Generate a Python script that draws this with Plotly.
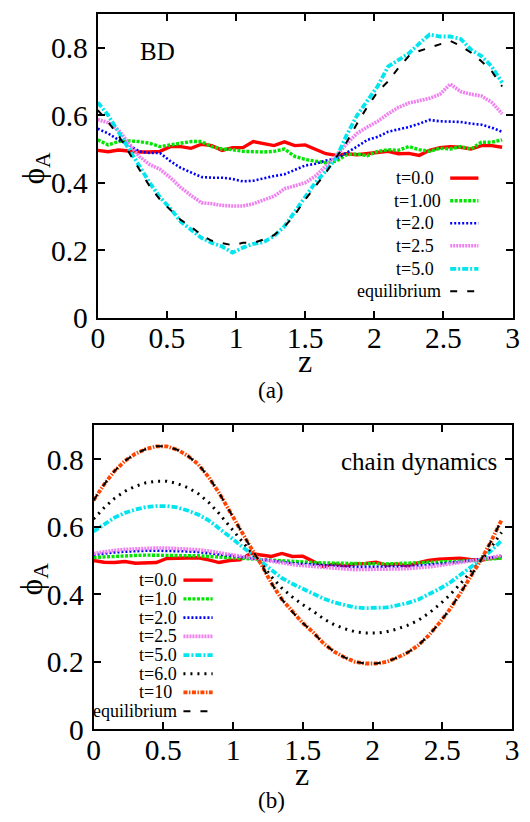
import plotly.graph_objects as go

W, H = 530, 822

# ---------------- data ----------------
z = [0.0, 0.075, 0.15, 0.225, 0.3, 0.375, 0.45, 0.525, 0.6, 0.675,
     0.75, 0.825, 0.9, 0.975, 1.05, 1.125, 1.2, 1.275, 1.35, 1.425,
     1.5, 1.575, 1.65, 1.725, 1.8, 1.875, 1.95, 2.025, 2.1, 2.175,
     2.25, 2.325, 2.4, 2.475, 2.55, 2.625, 2.7, 2.775, 2.85, 2.925]

x_ticks = [0, 0.5, 1, 1.5, 2, 2.5, 3]
x_tick_labels = ["0", "0.5", "1", "1.5", "2", "2.5", "3"]
y_ticks = [0, 0.2, 0.4, 0.6, 0.8]
y_tick_labels = ["0", "0.2", "0.4", "0.6", "0.8"]

# (a) BD
bd_t0 = [0.496, 0.492, 0.497, 0.493, 0.491, 0.491, 0.493, 0.507, 0.507, 0.502,
         0.514, 0.510, 0.496, 0.504, 0.504, 0.522, 0.516, 0.510, 0.521, 0.510,
         0.512, 0.498, 0.486, 0.481, 0.486, 0.483, 0.486, 0.491, 0.493, 0.486,
         0.487, 0.481, 0.496, 0.504, 0.507, 0.505, 0.500, 0.510, 0.510, 0.505]
bd_t1 = [0.527, 0.512, 0.522, 0.524, 0.522, 0.517, 0.507, 0.512, 0.517, 0.522,
         0.522, 0.507, 0.500, 0.498, 0.493, 0.491, 0.491, 0.493, 0.500, 0.478,
         0.469, 0.464, 0.459, 0.464, 0.483, 0.485, 0.480, 0.493, 0.498, 0.496,
         0.507, 0.498, 0.493, 0.502, 0.500, 0.507, 0.500, 0.520, 0.520, 0.527]
bd_t2 = [0.560, 0.546, 0.527, 0.512, 0.493, 0.488, 0.488, 0.464, 0.444, 0.430,
         0.417, 0.415, 0.415, 0.411, 0.404, 0.406, 0.414, 0.420, 0.425, 0.437,
         0.451, 0.456, 0.466, 0.471, 0.488, 0.507, 0.527, 0.536, 0.551, 0.558,
         0.565, 0.575, 0.586, 0.582, 0.580, 0.580, 0.575, 0.572, 0.563, 0.551]
bd_t25 = [0.587, 0.578, 0.556, 0.515, 0.478, 0.454, 0.440, 0.415, 0.386, 0.362,
          0.341, 0.338, 0.333, 0.331, 0.331, 0.338, 0.348, 0.360, 0.382, 0.391,
          0.400, 0.420, 0.450, 0.480, 0.515, 0.546, 0.565, 0.582, 0.604, 0.623,
          0.636, 0.643, 0.650, 0.662, 0.692, 0.670, 0.662, 0.657, 0.638, 0.604]
bd_t5 = [0.638, 0.600, 0.550, 0.500, 0.450, 0.400, 0.357, 0.324, 0.285, 0.261,
         0.237, 0.222, 0.211, 0.193, 0.208, 0.219, 0.224, 0.242, 0.271, 0.314,
         0.360, 0.401, 0.435, 0.473, 0.541, 0.599, 0.643, 0.686, 0.744, 0.763,
         0.783, 0.812, 0.839, 0.833, 0.833, 0.826, 0.794, 0.775, 0.744, 0.696]
bd_eq = [0.615, 0.580, 0.540, 0.490, 0.440, 0.390, 0.350, 0.320, 0.290, 0.270,
         0.245, 0.228, 0.222, 0.215, 0.222, 0.222, 0.232, 0.245, 0.270, 0.305,
         0.350, 0.390, 0.430, 0.475, 0.520, 0.575, 0.625, 0.670, 0.700, 0.740,
         0.775, 0.790, 0.800, 0.810, 0.820, 0.805, 0.785, 0.760, 0.730, 0.685]

# (b) chain dynamics
cd_t0 = [0.500, 0.495, 0.494, 0.497, 0.492, 0.492, 0.494, 0.506, 0.507, 0.506,
         0.508, 0.502, 0.494, 0.500, 0.502, 0.521, 0.516, 0.512, 0.521, 0.512,
         0.513, 0.497, 0.482, 0.490, 0.484, 0.490, 0.491, 0.495, 0.486, 0.490,
         0.484, 0.493, 0.500, 0.504, 0.506, 0.507, 0.503, 0.500, 0.507, 0.507]
cd_t1 = [0.509, 0.511, 0.513, 0.514, 0.515, 0.516, 0.516, 0.516, 0.515, 0.515,
         0.514, 0.512, 0.510, 0.508, 0.506, 0.504, 0.502, 0.500, 0.498, 0.496,
         0.495, 0.494, 0.493, 0.492, 0.491, 0.490, 0.490, 0.490, 0.490, 0.491,
         0.491, 0.492, 0.493, 0.495, 0.496, 0.498, 0.500, 0.502, 0.505, 0.507]
cd_t2 = [0.517, 0.521, 0.524, 0.526, 0.528, 0.529, 0.529, 0.529, 0.528, 0.527,
         0.525, 0.522, 0.519, 0.515, 0.511, 0.507, 0.503, 0.499, 0.495, 0.492,
         0.490, 0.488, 0.485, 0.484, 0.482, 0.481, 0.481, 0.481, 0.481, 0.482,
         0.483, 0.485, 0.487, 0.490, 0.493, 0.496, 0.500, 0.504, 0.508, 0.513]
cd_t25 = [0.521, 0.526, 0.530, 0.533, 0.535, 0.536, 0.537, 0.537, 0.536, 0.534,
          0.532, 0.528, 0.523, 0.518, 0.513, 0.507, 0.502, 0.497, 0.492, 0.488,
          0.485, 0.482, 0.479, 0.476, 0.475, 0.473, 0.473, 0.473, 0.473, 0.475,
          0.476, 0.478, 0.481, 0.485, 0.489, 0.493, 0.498, 0.503, 0.509, 0.515]
cd_t5 = [0.586, 0.608, 0.627, 0.641, 0.651, 0.658, 0.661, 0.661, 0.657, 0.648,
         0.636, 0.619, 0.596, 0.571, 0.546, 0.521, 0.498, 0.471, 0.448, 0.431,
         0.416, 0.402, 0.387, 0.376, 0.368, 0.361, 0.359, 0.359, 0.361, 0.367,
         0.374, 0.384, 0.398, 0.415, 0.433, 0.455, 0.479, 0.502, 0.529, 0.559]
cd_t6 = [0.623, 0.656, 0.684, 0.705, 0.720, 0.730, 0.735, 0.735, 0.728, 0.716,
         0.698, 0.672, 0.639, 0.600, 0.564, 0.527, 0.492, 0.452, 0.418, 0.392,
         0.369, 0.350, 0.327, 0.310, 0.298, 0.289, 0.285, 0.285, 0.289, 0.297,
         0.308, 0.322, 0.343, 0.368, 0.396, 0.429, 0.464, 0.499, 0.539, 0.583]
cd_t10 = [0.678, 0.725, 0.765, 0.795, 0.816, 0.830, 0.838, 0.838, 0.828, 0.810,
          0.785, 0.747, 0.700, 0.645, 0.593, 0.540, 0.490, 0.433, 0.385, 0.348,
          0.315, 0.287, 0.254, 0.230, 0.213, 0.200, 0.195, 0.195, 0.200, 0.212,
          0.227, 0.248, 0.277, 0.313, 0.353, 0.400, 0.450, 0.500, 0.557, 0.620]
cd_eq = [0.678, 0.725, 0.765, 0.795, 0.816, 0.830, 0.838, 0.838, 0.828, 0.810,
         0.785, 0.747, 0.700, 0.645, 0.593, 0.540, 0.490, 0.433, 0.385, 0.348,
         0.315, 0.287, 0.254, 0.230, 0.213, 0.200, 0.195, 0.195, 0.200, 0.212,
         0.227, 0.248, 0.277, 0.313, 0.353, 0.400, 0.450, 0.500, 0.557, 0.620]

top_labels = ["t=0.0", "t=1.00", "t=2.0", "t=2.5", "t=5.0", "equilibrium"]
bot_labels = ["t=0.0", "t=1.0", "t=2.0", "t=2.5", "t=5.0", "t=6.0", "t=10", "equilibrium"]

# ---------------- styles ----------------
ST = {
    "t0":  dict(color="#ff0000", width=3.4, dash="solid"),
    "t1":  dict(color="#00e600", width=3.4, dash="3px,1.5px"),
    "t2":  dict(color="#0000ff", width=2.6, dash="2px,2px"),
    "t25": dict(color="#f080f0", width=3.6, dash="2px,1px"),
    "t5":  dict(color="#00e5ee", width=3.8, dash="6px,2px,2px,2px"),
    "t6":  dict(color="#000000", width=3.0, dash="2px,5px"),
    "t10": dict(color="#ff4500", width=3.8, dash="4px,1.5px,1.5px,1.5px"),
    "eq":  dict(color="#000000", width=2.0, dash="7px,10px"),
}

SERIF = "Liberation Serif"

fig = go.Figure()


def add(y, key, xa, ya):
    fig.add_trace(go.Scatter(x=z, y=y, mode="lines", line=ST[key],
                             xaxis=xa, yaxis=ya, showlegend=False,
                             hoverinfo="skip"))


for y, k in [(bd_t0, "t0"), (bd_t1, "t1"), (bd_t2, "t2"), (bd_t25, "t25"),
             (bd_t5, "t5"), (bd_eq, "eq")]:
    add(y, k, "x", "y")
for y, k in [(cd_t0, "t0"), (cd_t1, "t1"), (cd_t2, "t2"), (cd_t25, "t25"),
             (cd_t5, "t5"), (cd_t6, "t6"), (cd_t10, "t10"), (cd_eq, "eq")]:
    add(y, k, "x2", "y2")


def px(x):
    return x / W


def py(y):
    return 1 - y / H


axis_common = dict(showline=True, linecolor="black", linewidth=2,
                   mirror="allticks", ticks="inside", ticklen=7,
                   tickwidth=1.5, tickcolor="black", showgrid=False,
                   zeroline=False,
                   tickfont=dict(family=SERIF, size=29.5, color="black"))
xstyle = dict(axis_common, ticklabelstandoff=-7)
ystyle = dict(axis_common, ticklabelstandoff=2)

fig.update_layout(
    width=W, height=H, margin=dict(l=0, r=0, t=0, b=0),
    paper_bgcolor="white", plot_bgcolor="white", showlegend=False,
    xaxis=dict(domain=[px(85), px(511)], anchor="y", range=[0, 3],
               tickvals=x_ticks, ticktext=x_tick_labels, **xstyle),
    yaxis=dict(domain=[py(316), py(6)], anchor="x", range=[0, 0.9],
               tickvals=y_ticks, ticktext=y_tick_labels, **ystyle),
    xaxis2=dict(domain=[px(80.7), px(510.5)], anchor="y2", range=[0, 3],
                tickvals=x_ticks, ticktext=x_tick_labels, **xstyle),
    yaxis2=dict(domain=[py(735.7), py(425.7)], anchor="x2", range=[0, 0.9],
                tickvals=y_ticks, ticktext=y_tick_labels, **ystyle),
)

ann = []
shapes = []


def text(x, y, s, size, xanchor="center", textangle=0):
    ann.append(dict(x=px(x), y=py(y), xref="paper", yref="paper", text=s,
                    showarrow=False, xanchor=xanchor, yanchor="middle",
                    textangle=textangle,
                    font=dict(family=SERIF, size=size, color="black")))


# legends
top_keys = ["t0", "t1", "t2", "t25", "t5", "eq"]
top_rows = [173.5, 196.5, 219.5, 242.5, 266, 289]
top_right = [432, 440, 432, 432, 432, 440]
for lab, k, yy, xr in zip(top_labels, top_keys, top_rows, top_right):
    text(xr, yy, lab, 18, xanchor="right")
    shapes.append(dict(type="line", xref="paper", yref="paper",
                       x0=px(447), x1=px(476), y0=py(yy), y1=py(yy),
                       line=ST[k]))

bot_keys = ["t0", "t1", "t2", "t25", "t5", "t6", "t10", "eq"]
bot_rows = [583.5, 602.6, 621.7, 640.8, 660, 679, 698, 717.2]
bot_right = [168, 168, 168, 168, 168, 168, 163, 168]
for lab, k, yy, xr in zip(bot_labels, bot_keys, bot_rows, bot_right):
    text(xr, yy, lab, 18, xanchor="right")
    shapes.append(dict(type="line", xref="paper", yref="paper",
                       x0=px(173), x1=px(203), y0=py(yy), y1=py(yy),
                       line=ST[k]))

# panel labels
text(146, 44, "BD", 25)
text(497, 462, "chain dynamics", 25, xanchor="right")

# axis titles
text(298, 360, "z", 32)
text(295, 781, "z", 32)
text(21, 163, "ϕ<sub>A</sub>", 31, textangle=-90)
text(19, 582, "ϕ<sub>A</sub>", 31, textangle=-90)

# captions
text(263, 390, "(a)", 23)
text(263, 808, "(b)", 23)

fig.update_layout(annotations=ann, shapes=shapes)
fig.write_html("out.html")
